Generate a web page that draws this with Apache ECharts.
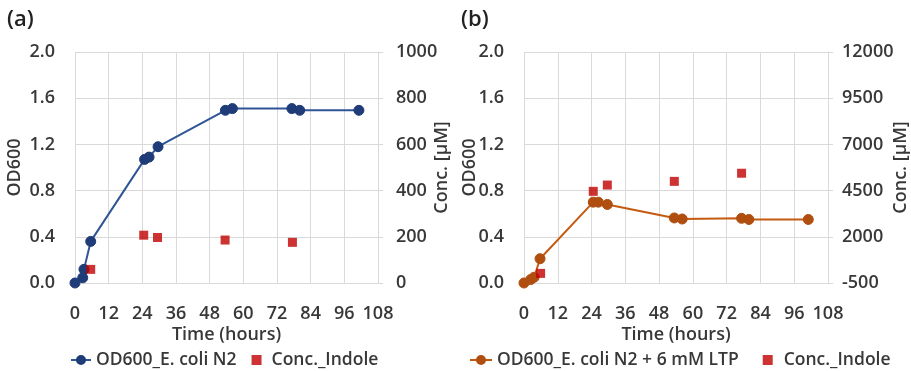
<!DOCTYPE html>
<html>
<head>
<meta charset="utf-8">
<script src="https://cdn.jsdelivr.net/npm/echarts@6/dist/echarts.min.js"></script>
<style>
  html, body { margin: 0; padding: 0; background: #fff; }
  #chart { width: 911px; height: 371px; }
</style>
</head>
<body>
<div id="chart"></div>
<script>
// Panel (a): E. coli N2 growth and indole concentration
const timeA = [0, 2.75, 3.2, 5.6, 24.8, 26.4, 29.6, 53.6, 56.1, 77.3, 80.1, 101.2];
const odA = [0.00, 0.045, 0.118, 0.36, 1.07, 1.09, 1.18, 1.495, 1.51, 1.51, 1.495, 1.495];
const indoleTimeA = [5.6, 24.5, 29.4, 53.5, 77.5];
const indoleA = [59, 207, 197, 186, 176];

// Panel (b): E. coli N2 + 6 mM LTP growth and indole concentration
const timeB = [0, 2.4, 3.6, 5.7, 24.6, 26.4, 29.6, 53.4, 56.2, 77.3, 79.9, 101];
const odB = [0.00, 0.03, 0.05, 0.21, 0.70, 0.70, 0.68, 0.563, 0.554, 0.56, 0.55, 0.55];
const indoleTimeB = [5.9, 24.6, 29.6, 53.4, 77.3];
const indoleB = [20, 4460, 4800, 5000, 5440];

const nameLineA = 'OD600_E. coli N2';
const nameLineB = 'OD600_E. coli N2 + 6 mM LTP';
const nameIndole = 'Conc._Indole';

const zip = (xs, ys) => xs.map((x, i) => [x, ys[i]]);

const FONT = 'Open Sans';
const TXT = '#383838';
const GRID = '#d9d9d9';
const FS = 18;

const labelStyle = { fontFamily: FONT, fontSize: FS, color: TXT, fontWeight: 600 };
const legendStyle = { fontFamily: FONT, fontSize: 17.5, color: TXT, fontWeight: 600 };
const squareIcon = 'path://M0,0H10V10H0Z';

function xAxisFor(gridIndex) {
  return {
    type: 'value', gridIndex, min: 0, max: 108, interval: 12,
    name: 'Time (hours)', nameLocation: 'middle', nameGap: 43, nameMoveOverlap: false,
    nameTextStyle: labelStyle,
    axisLine: { show: true, lineStyle: { color: GRID, width: 1 } },
    axisTick: { show: false },
    axisLabel: Object.assign({ margin: 22 }, labelStyle),
    splitLine: { show: true, lineStyle: { color: GRID, width: 1 } }
  };
}

function leftAxisFor(gridIndex, gap) {
  return {
    type: 'value', gridIndex, position: 'left', min: 0, max: 2, interval: 0.4,
    name: 'OD600', nameLocation: 'middle', nameGap: gap, nameRotate: 90, nameMoveOverlap: false,
    nameTextStyle: labelStyle,
    axisLine: { show: false }, axisTick: { show: false },
    axisLabel: Object.assign({ margin: 20, formatter: v => v.toFixed(1) }, labelStyle),
    splitLine: { show: true, lineStyle: { color: GRID, width: 1 } }
  };
}

function rightAxisFor(gridIndex, min, max, interval, gap, margin) {
  return {
    type: 'value', gridIndex, position: 'right', min, max, interval,
    name: 'Conc. [µM]', nameLocation: 'middle', nameGap: gap, nameRotate: 90, nameMoveOverlap: false,
    nameTextStyle: labelStyle,
    axisLine: { show: true, lineStyle: { color: GRID, width: 1 } },
    axisTick: { show: true, inside: false, length: 5, lineStyle: { color: GRID } },
    axisLabel: Object.assign({ margin, formatter: v => String(v) }, labelStyle),
    splitLine: { show: false }
  };
}

function lineSeries(name, xAxisIndex, yAxisIndex, data, lineColor, markerColor) {
  return {
    name, type: 'line', xAxisIndex, yAxisIndex, data,
    symbol: 'circle', symbolSize: 10, z: 3,
    lineStyle: { color: lineColor, width: 2 },
    itemStyle: { color: markerColor, borderColor: markerColor, borderWidth: 1 }
  };
}

function indoleSeries(xAxisIndex, yAxisIndex, data) {
  return {
    name: nameIndole, type: 'scatter', xAxisIndex, yAxisIndex, data,
    symbol: 'rect', symbolSize: 9, z: 4,
    itemStyle: { color: '#C00000' }
  };
}

const option = {
  backgroundColor: '#ffffff',
  animation: false,
  textStyle: { fontFamily: FONT },
  title: [
    { text: '(a)', left: 2, top: 4, textStyle: { fontFamily: FONT, fontSize: 22, fontWeight: 600, color: '#222' } },
    { text: '(b)', left: 456, top: 4, textStyle: { fontFamily: FONT, fontSize: 22, fontWeight: 600, color: '#222' } }
  ],
  grid: [
    { left: 75, right: 533, top: 52, bottom: 88 },
    { left: 524, right: 83, top: 52, bottom: 88 }
  ],
  xAxis: [xAxisFor(0), xAxisFor(1)],
  yAxis: [
    leftAxisFor(0, 51),
    rightAxisFor(0, 0, 1000, 200, 55, 18),
    leftAxisFor(1, 45),
    rightAxisFor(1, -500, 12000, 2500, 64, 14)
  ],
  legend: [
    {
      left: 65, top: 346, itemWidth: 20, itemHeight: 10, itemGap: 15,
      textStyle: legendStyle,
      data: [nameLineA, { name: nameIndole, icon: squareIcon, itemStyle: { color: '#C00000' } }]
    },
    {
      left: 464, top: 346, itemWidth: 22, itemHeight: 10, itemGap: 24,
      textStyle: legendStyle,
      data: [nameLineB, { name: nameIndole, icon: squareIcon, itemStyle: { color: '#C00000' } }]
    }
  ],
  series: [
    lineSeries(nameLineA, 0, 0, zip(timeA, odA), '#2F5597', '#1F3C78'),
    indoleSeries(0, 1, zip(indoleTimeA, indoleA)),
    lineSeries(nameLineB, 1, 2, zip(timeB, odB), '#C55A11', '#B04E0F'),
    indoleSeries(1, 3, zip(indoleTimeB, indoleB))
  ]
};

const chart = echarts.init(document.getElementById('chart'), null, { renderer: 'canvas' });
chart.setOption(option);
</script>
</body>
</html>
